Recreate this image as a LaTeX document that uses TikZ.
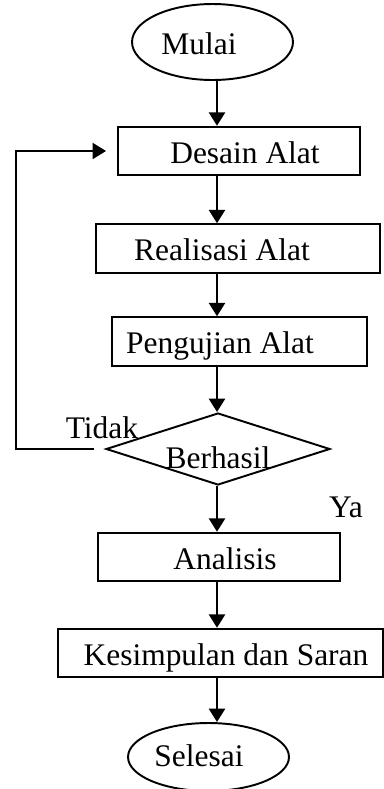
\documentclass[tikz,border=0pt]{standalone}
\usepackage{fontspec}
\setmainfont{Liberation Serif}
\usetikzlibrary{shapes.geometric,arrows.meta}

\begin{document}
\begin{tikzpicture}[x=0.02cm,y=-0.02cm,
  every node/.style={font=\fontsize{17.9}{21}\selectfont},
  proses/.style={draw,line width=1.1pt,inner sep=0pt,text height=0.5cm,text depth=0.02cm,minimum height=0.97cm},
  terminal/.style={draw,ellipse,line width=1.1pt,inner sep=0pt,text height=0.5cm,text depth=0.02cm,minimum width=3.22cm},
  alur/.style={line width=1.6pt,-{Triangle[width=0.32cm,length=0.27cm]}}]
  \useasboundingbox (0,0) rectangle (384,789);
  \coordinate (spine) at (217,0);
  \coordinate (balik) at (16,300);
  % urutan langkah
  \node[terminal,minimum height=1.52cm] (mulai) at (212.5,42) {Mulai\hspace*{0.54cm}};
  \node[proses,minimum width=4.84cm] (desain) at (239,151) {\hspace*{0.24cm}Desain Alat};
  \node[proses,minimum width=5.68cm] (realisasi) at (238,248.5) {Realisasi Alat\hspace*{0.64cm}};
  \node[proses,minimum width=5.10cm] (uji) at (239.5,341.5) {Pengujian Alat\hspace*{0.78cm}};
  \node[draw,diamond,aspect=3.1,line width=1.1pt,inner sep=0pt,text height=0.76cm,text depth=0pt,
    minimum width=4.48cm,minimum height=1.44cm] (cek) at (218,449) {Berhasil};
  \node (tidak) at (102,428) {Tidak};
  \node (ya) at (346,507) {Ya};
  \node[proses,minimum width=4.84cm] (analisis) at (219,557) {\hspace*{0.24cm}Analisis};
  \node[proses,minimum width=6.50cm] (simpul) at (220.5,653) {\hspace*{0.22cm}Kesimpulan dan Saran};
  \node[terminal,minimum height=1.36cm,text height=0.4cm] (selesai) at (208.5,757) {Selesai\hspace*{0.38cm}};
  % panah
  \draw[alur] (mulai.south -| spine) -- (desain.north -| spine);
  \draw[alur] (desain.south -| spine) -- (realisasi.north -| spine);
  \draw[alur] (realisasi.south -| spine) -- (uji.north -| spine);
  \draw[alur] (uji.south -| spine) -- (cek.north -| spine);
  \draw[alur] (cek.south -| spine) -- (analisis.north -| spine);
  \draw[alur] (analisis.south -| spine) -- (simpul.north -| spine);
  \draw[alur] (simpul.south -| spine) -- (selesai.north -| spine);
  \draw[alur,line width=1.2pt,shorten <=0.22cm,shorten >=0.22cm]
    (cek.west) -- (cek.west -| balik) |- (desain.west);
\end{tikzpicture}
\end{document}
